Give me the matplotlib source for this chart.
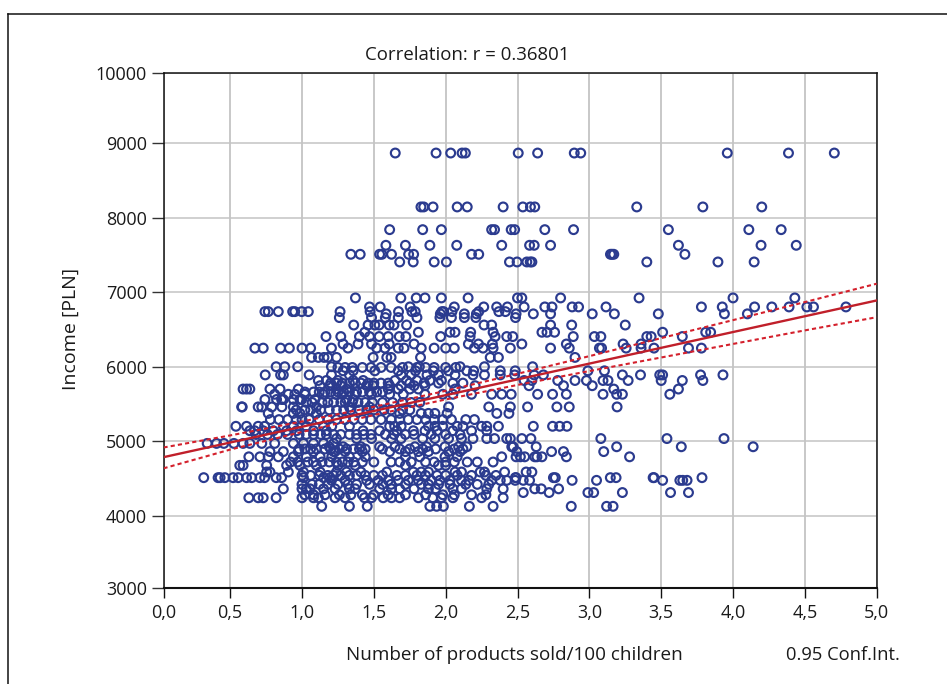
import matplotlib
matplotlib.use("Agg")
import matplotlib.pyplot as plt
from matplotlib.lines import Line2D

plt.rcParams['font.family'] = ['Open Sans', 'DejaVu Sans']

W, H = 947, 684
title = "Correlation: r = 0.36801"
xlabel = "Number of products sold/100 children"
ylabel = "Income [PLN]"
note = "0.95 Conf.Int."
x_ticks = [0.036, 0.5, 1.0, 1.5, 2.0, 2.5, 3.0, 3.5, 4.0, 4.5, 5.0]
x_ticklabels = ["0,0", "0,5", "1,0", "1,5", "2,0", "2,5", "3,0", "3,5", "4,0", "4,5", "5,0"]
y_ticks = [3032, 4000, 5000, 6000, 7000, 8000, 9000, 9945]
y_ticklabels = ["3000", "4000", "5000", "6000", "7000", "8000", "9000", "10000"]

# upper band (y > 6500)
x_8870 = [1.649, 1.933, 2.035, 2.114, 2.137, 2.505, 2.64, 2.895, 2.94, 3.96, 4.386, 4.705]
x_8146 = [1.828, 1.847, 1.912, 2.08, 2.15, 2.40, 2.537, 2.59, 2.62, 3.33, 3.79, 4.2]
x_7841 = [1.61, 1.84, 1.97, 2.32, 2.34, 2.456, 2.48, 2.69, 2.89, 3.55, 4.11, 4.335]
x_7631 = [1.584, 1.72, 1.89, 2.077, 2.39, 2.584, 2.616, 2.73, 3.62, 4.195, 4.44]
x_7510 = [1.34, 1.405, 1.54, 1.556, 1.623, 1.742, 1.777, 2.18, 2.23, 3.147, 3.158, 3.17, 3.665]
x_7407 = [1.68, 1.774, 1.92, 2.005, 2.444, 2.497, 2.565, 2.588, 2.6, 3.40, 3.895, 4.147]
x_6924 = [1.372, 1.688, 1.795, 1.856, 1.97, 2.156, 2.5, 2.53, 2.80, 3.346, 4.0, 4.43]
x_6803 = [1.47, 1.544, 1.753, 2.06, 2.265, 2.355, 2.43, 2.546, 2.69, 2.74, 2.88, 2.925, 3.116,
          3.78, 3.925, 4.15, 4.27, 4.39, 4.514, 4.56, 4.786]
x_6740 = [0.742, 0.765, 0.835, 0.935, 0.95, 0.998, 1.044, 1.265, 1.474, 1.672, 1.765, 1.788,
          1.974, 1.986, 2.044, 2.23, 2.37, 2.416]
x_6710 = [1.586, 1.963, 2.13, 2.214, 2.49, 2.61, 2.73, 3.02, 3.174, 3.48, 3.94, 4.10]
x_6660 = [1.26, 1.484, 1.58, 1.67, 1.8, 1.96, 2.04, 2.13, 2.21, 2.486]
x_6560 = [1.36, 1.46, 1.507, 1.537, 1.607, 1.64, 1.728, 2.267, 2.32, 2.73, 2.877, 3.25]

# middle band, right side and left side
x_6463 = [1.437, 1.81, 2.03, 2.065, 2.174, 2.33, 2.67, 2.705, 2.758, 3.51, 3.81, 3.844]
x_6405 = [1.167, 1.27, 1.40, 1.47, 1.537, 1.6, 1.677, 1.723, 1.965, 2.17, 2.344, 2.425, 2.467,
          2.888, 3.035, 3.08, 3.40, 3.43, 3.647]
x_6305 = [1.286, 1.39, 1.484, 1.607, 1.78, 2.158, 2.228, 2.325, 2.53, 2.84, 3.235, 3.36]
x_6250 = [0.672, 0.73, 0.851, 0.912, 1.0, 1.06, 1.205, 1.32, 1.52, 1.577, 1.67, 1.71, 1.83,
          1.92, 2.0, 2.06, 2.2, 2.26, 2.33, 2.45, 2.73, 2.86, 3.07, 3.085, 3.256, 3.36, 3.45,
          3.69, 3.78]
x_6125 = [1.067, 1.114, 1.153, 1.18, 1.24, 1.495, 1.59, 1.62, 1.825, 2.31, 2.367, 2.90]
x_6000 = [0.82, 0.88, 0.97, 1.205, 1.74, 1.817, 2.1, 2.27, 2.605]
x_5990 = [1.25, 1.3, 1.35, 1.42, 1.48, 1.55, 1.62, 1.7, 1.8, 1.86, 1.92, 2.0, 2.07]
x_5945 = [1.286, 1.356, 1.507, 1.67, 1.79, 1.914, 2.02, 2.147, 2.195, 2.38, 2.484, 2.99, 3.105]
x_5890 = [0.744, 0.851, 0.87, 1.05, 1.205, 1.33, 1.69, 1.76, 1.87, 1.95, 2.065, 2.19, 2.27,
          2.38, 2.48, 2.616, 2.68, 3.23, 3.356, 3.49, 3.51, 3.774, 3.93]
x_5815 = [1.114, 1.17, 1.25, 1.356, 1.426, 1.647, 1.728, 1.80, 1.89, 1.97, 2.546, 2.6, 2.78,
          2.90, 2.98, 3.095, 3.13, 3.27, 3.50, 3.647, 3.79]
x_5780 = [1.2, 1.24, 1.28, 1.33, 1.37, 1.41, 1.46, 1.5, 1.55, 1.6, 1.75, 1.85, 1.95, 2.05, 2.12]
x_5745 = [1.126, 1.195, 1.27, 1.45, 1.495, 1.61, 1.69, 1.78, 1.856, 2.205, 2.58, 2.82, 3.02]
x_5700 = [0.59, 0.614, 0.637, 0.777, 0.847, 0.974, 1.24, 1.31, 1.6, 1.67, 1.75, 1.81, 2.065,
          3.17, 3.62]
x_5660 = [1.02, 1.08, 1.12, 1.16, 1.2, 1.25, 1.29, 1.33, 1.38, 1.42, 1.47, 1.52, 1.56]
x_5630 = [0.81, 0.905, 0.95, 1.02, 1.15, 1.235, 1.28, 1.37, 1.484, 1.61, 1.705, 1.856, 1.98,
          2.05, 2.18, 2.32, 2.39, 2.456, 2.64, 2.744, 2.84, 3.095, 3.19, 3.23, 3.56]
x_5560 = [0.858, 0.986, 1.31, 1.356, 0.742, 0.823, 0.87, 0.94, 0.998, 1.09]
x_5520 = [1.03, 1.07, 1.14, 1.18, 1.22, 1.27, 1.3, 1.35, 1.39, 1.44, 1.49, 1.56, 1.63, 1.7, 1.76, 1.82]
x_5460 = [0.58, 0.584, 0.695, 0.72, 0.79, 0.86, 0.94, 1.10, 1.33, 1.47, 2.02, 2.3, 2.45, 2.57,
          2.774, 3.193, 2.86]
x_5420 = [0.96, 1.02, 1.06, 1.13, 1.19, 1.24, 1.29, 1.34, 1.4, 1.45, 1.5, 1.57, 1.62, 1.7, 1.75]

# lower band
x_5373 = [0.765, 0.94, 0.986, 1.10, 1.68, 1.83, 1.88, 1.925, 2.01, 2.356, 2.44]
x_5290 = [0.78, 0.84, 0.9, 0.96, 1.0, 1.05, 1.12, 1.18, 1.24, 1.3, 1.36, 1.42, 1.48, 1.55, 1.62,
          1.68, 1.74, 1.8, 1.86, 1.92, 1.98, 2.04, 2.14, 2.2]
x_5200 = [0.54, 0.614, 0.695, 0.74, 0.87, 0.94, 1.03, 1.15, 1.207, 1.33, 1.61, 1.645, 1.69,
          1.88, 1.925, 1.98, 2.08, 2.12, 2.25, 2.286, 2.367, 2.744, 2.844, 2.61, 2.793]
x_5140 = [0.637, 0.67, 0.73, 0.8, 0.893, 0.963, 1.08, 1.17, 1.425, 1.54, 1.66, 1.775, 1.856,
          1.94, 2.05, 2.18, 2.286]
x_5090 = [0.68, 0.76, 0.83, 0.9, 0.98, 1.03, 1.08, 1.13, 1.17, 1.22, 1.27, 1.33, 1.38, 1.43, 1.48,
          1.58, 1.64, 1.72, 1.78, 1.9, 2.0, 2.1]
x_5035 = [1.24, 1.38, 1.484, 1.623, 1.69, 1.84, 1.925, 2.02, 2.11, 2.19, 2.286, 2.34, 2.425,
          2.45, 2.53, 2.593, 3.08, 3.54, 3.937]
x_4970 = [0.34, 0.405, 0.456, 0.526, 0.59, 0.637, 0.72, 0.81, 0.94, 1.01, 1.08, 1.15, 1.22]
x_4925 = [1.19, 1.286, 1.41, 1.54, 1.647, 1.786, 1.867, 1.995, 2.09, 2.147, 2.46, 2.47, 2.63,
          3.19, 3.64, 4.14]
x_4895 = [0.98, 1.02, 1.06, 1.1, 1.16, 1.2, 1.26, 1.31, 1.36, 1.4, 1.44, 1.56, 1.68, 1.75, 1.84,
          1.93, 2.06, 2.12]
x_4860 = [0.777, 0.87, 0.974, 1.08, 1.22, 1.23, 1.3, 1.42, 1.61, 1.72, 1.81, 1.88, 2.02, 2.1,
          2.495, 2.737, 2.82, 3.10]
x_4790 = [0.63, 0.707, 0.765, 0.835, 0.94, 1.03, 1.126, 1.207, 1.33, 1.44, 1.72, 1.82, 1.995,
          2.08, 2.39, 2.49, 2.52, 2.55, 2.62, 2.67, 3.28, 2.84, 2.635]
x_4720 = [0.92, 0.97, 1.04, 1.08, 1.14, 1.19, 1.24, 1.28, 1.32, 1.36, 1.42, 1.5, 1.62, 1.68, 1.76,
          1.86, 1.92, 2.0, 2.06, 2.15, 2.22, 2.33]
x_4675 = [0.567, 0.59, 0.754, 0.893, 0.986, 1.10, 1.25, 1.37, 1.72, 1.95, 2.0]
x_4586 = [0.754, 0.777, 0.905, 1.01, 1.126, 1.24, 1.31, 1.41, 1.59, 1.775, 1.83, 1.88, 2.065,
          2.11, 2.24, 2.27, 2.41, 2.56, 2.6]
x_4540 = [1.0, 1.06, 1.12, 1.18, 1.22, 1.27, 1.33, 1.38, 1.44, 1.5, 1.56, 1.66, 1.72, 1.8, 1.86,
          1.94, 2.0, 2.08, 2.18, 2.28, 2.35]
x_4510 = [0.316, 0.416, 0.43, 0.463, 0.52, 0.556, 0.614, 0.65, 0.707, 0.74, 0.82, 0.858, 1.01,
          1.15, 1.195, 2.49, 2.75, 3.146, 3.45, 3.186, 3.444, 2.485, 2.763, 3.784]
x_4474 = [1.205, 1.3, 1.45, 1.53, 1.6, 1.67, 1.74, 1.81, 1.9, 1.96, 2.03, 2.11, 2.16, 2.32,
          2.38, 2.425, 2.484, 2.54, 2.584, 2.88, 3.05, 3.51, 3.63, 3.65, 3.68]
x_4420 = [1.0, 1.07, 1.12, 1.18, 1.25, 1.32, 1.38, 1.47, 1.56, 1.62, 1.72, 1.83, 1.88, 1.95, 2.03,
          2.14, 2.22, 2.3]
x_4360 = [0.87, 1.0, 1.03, 1.056, 1.15, 1.23, 1.33, 1.37, 1.54, 1.623, 1.68, 1.78, 1.88, 1.93,
          2.05, 2.11, 2.286, 2.4, 2.62, 2.665, 2.786]
x_4310 = [2.54, 3.03, 3.23, 2.72, 2.99, 3.565, 3.69]
x_4280 = [1.02, 1.08, 1.16, 1.26, 1.34, 1.42, 1.5, 1.6, 1.72, 1.86, 1.98, 2.06, 2.18, 2.28]
x_4240 = [0.63, 0.695, 0.73, 0.82, 1.0, 1.08, 1.114, 1.23, 1.3, 1.435, 1.484, 1.565, 1.623,
          1.68, 1.81, 1.91, 1.97, 2.05, 2.25, 2.4]
x_4125 = [1.137, 1.33, 1.454, 1.89, 1.937, 1.984, 2.165, 2.33, 2.874, 3.12, 3.165]

row_x = [x_8870, x_8146, x_7841, x_7631, x_7510, x_7407, x_6924, x_6803, x_6740, x_6710, x_6660,
         x_6560, x_6463, x_6405, x_6305, x_6250, x_6125, x_6000, x_5990, x_5945, x_5890, x_5815,
         x_5780, x_5745, x_5700, x_5660, x_5630, x_5560, x_5520, x_5460, x_5420, x_5373, x_5290,
         x_5200, x_5140, x_5090, x_5035, x_4970, x_4925, x_4895, x_4860, x_4790, x_4720, x_4675,
         x_4586, x_4540, x_4510, x_4474, x_4420, x_4360, x_4310, x_4280, x_4240, x_4125]
row_y = [8870, 8146, 7841, 7631, 7510, 7407, 6924, 6803, 6740, 6710, 6660,
         6560, 6463, 6405, 6305, 6250, 6125, 6000, 5990, 5945, 5890, 5815,
         5780, 5745, 5700, 5660, 5630, 5560, 5520, 5460, 5420, 5373, 5290,
         5200, 5140, 5090, 5035, 4970, 4925, 4895, 4860, 4790, 4720, 4675,
         4586, 4540, 4510, 4474, 4420, 4360, 4310, 4280, 4240, 4125]

# regression line and 0.95 confidence band
fit_x = [0.036, 5.0]
fit_y = [4785, 6890]
ci_x = [0.036, 0.5, 1.0, 1.5, 2.0, 2.5, 3.0, 3.5, 4.0, 4.5, 5.0]
ci_upper = [4915, 5077, 5264, 5461, 5676, 5905, 6142, 6384, 6626, 6868, 7115]
ci_lower = [4635, 4887, 5124, 5351, 5560, 5755, 5942, 6124, 6306, 6488, 6665]

fig = plt.figure(figsize=(W / 100, H / 100), dpi=100, facecolor="white")
L, R, T, B = 163.5, 876.7, 73.0, 587.7
ax = fig.add_axes([L / W, 1 - B / H, (R - L) / W, (B - T) / H])
ax.set_xlim(0.036, 5.0)
ax.set_ylim(3032, 9945)

ax.set_axisbelow(True)
ax.xaxis.grid(True, color="#c4c4c4", linewidth=1.3)
ax.yaxis.grid(True, color="#c4c4c4", linewidth=1.1)

for xs, level in zip(row_x, row_y):
    ax.scatter(xs, [level] * len(xs), s=40, facecolors="none", edgecolors="#2b3b8f",
               linewidths=1.55, zorder=3, clip_on=False)

ax.plot(fit_x, fit_y, color="#c01f2a", linewidth=1.7, zorder=4)
ax.plot(ci_x, ci_upper, color="#d4202c", linewidth=1.5, linestyle=(0, (2, 1.5)), zorder=4)
ax.plot(ci_x, ci_lower, color="#d4202c", linewidth=1.5, linestyle=(0, (2, 1.5)), zorder=4)

ax.set_xticks(x_ticks)
ax.set_xticklabels(x_ticklabels)
ax.set_yticks(y_ticks)
ax.set_yticklabels(y_ticklabels)
ax.tick_params(axis="x", length=7.5, width=1, color="#111111", labelsize=13, pad=4, labelcolor="#1a1a1a")
ax.tick_params(axis="y", length=8.5, width=1, color="#333333", labelsize=13, pad=3.5, labelcolor="#1a1a1a")
for s in ax.spines.values():
    s.set_color("#111111")
    s.set_linewidth(1.1)
ax.spines["bottom"].set_linewidth(1.5)

fig.text(467 / W, 1 - 55 / H, title, ha="center", va="center", fontsize=13.4, color="#1a1a1a")
fig.text(514 / W, 1 - 655 / H, xlabel, ha="center", va="center", fontsize=13.6, color="#1a1a1a")
fig.text(843 / W, 1 - 655 / H, note, ha="center", va="center", fontsize=13.2, color="#1a1a1a")
fig.text(71 / W, 1 - 329 / H, ylabel, ha="center", va="center", rotation=90, fontsize=14, color="#1a1a1a")

# outer frame: top and left sides only
def frame(xa, ya, xb, yb):
    fig.add_artist(Line2D([xa / W, xb / W], [1 - ya / H, 1 - yb / H], color="#111111", linewidth=1.1))
frame(8, 14, 947, 14)
frame(8, 14, 8, 684)

fig.savefig("out.png", dpi=100)
